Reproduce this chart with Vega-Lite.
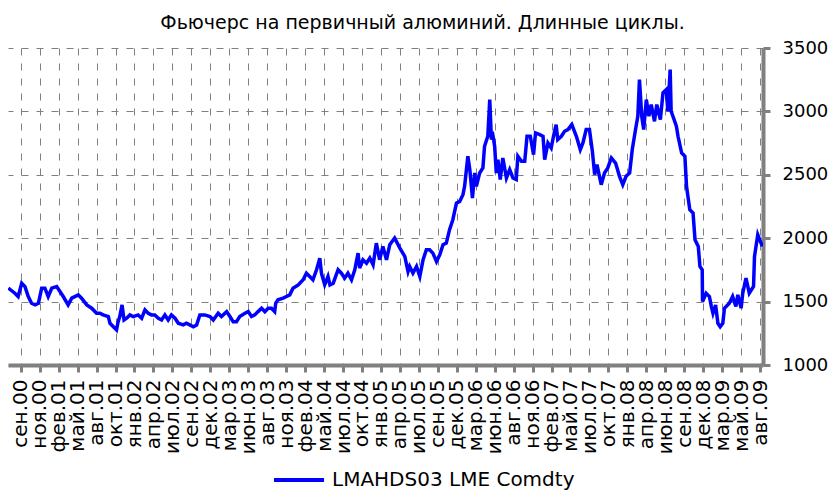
{
  "$schema": "https://vega.github.io/schema/vega-lite/v6.json",
  "width": 755,
  "height": 317,
  "autosize": {"type": "none"},
  "padding": {"left": 8, "top": 48, "right": 71, "bottom": 126},
  "background": "white",
  "title": {
    "text": "Фьючерс на первичный алюминий. Длинные циклы.",
    "font": "DejaVu Sans",
    "fontSize": 19,
    "fontWeight": "normal",
    "color": "black",
    "anchor": "middle",
    "frame": "group",
    "baseline": "alphabetic",
    "offset": -9,
    "dx": 37
  },
  "config": {"view": {"stroke": null}},
  "data": {
    "values": [
      {"d":1,"v":1606},{"d":21,"v":1566},{"d":31,"v":1540},{"d":42,"v":1645},{"d":52,"v":1618},{"d":62,"v":1540},{"d":72,"v":1487},{"d":83,"v":1474},{"d":93,"v":1487},{"d":103,"v":1606},{"d":113,"v":1606},{"d":123,"v":1540},{"d":134,"v":1606},{"d":149,"v":1618},{"d":159,"v":1579},{"d":169,"v":1540},{"d":184,"v":1474},{"d":195,"v":1527},{"d":215,"v":1553},{"d":225,"v":1527},{"d":241,"v":1474},{"d":256,"v":1448},{"d":271,"v":1408},{"d":281,"v":1408},{"d":291,"v":1395},{"d":307,"v":1382},{"d":312,"v":1329},{"d":327,"v":1290},{"d":332,"v":1277},{"d":337,"v":1342},{"d":342,"v":1382},{"d":349,"v":1474},{"d":355,"v":1355},{"d":363,"v":1369},{"d":373,"v":1395},{"d":383,"v":1382},{"d":398,"v":1395},{"d":409,"v":1369},{"d":419,"v":1435},{"d":429,"v":1408},{"d":439,"v":1395},{"d":449,"v":1395},{"d":460,"v":1369},{"d":470,"v":1355},{"d":480,"v":1395},{"d":490,"v":1355},{"d":500,"v":1395},{"d":511,"v":1369},{"d":521,"v":1329},{"d":536,"v":1316},{"d":546,"v":1329},{"d":556,"v":1316},{"d":567,"v":1302},{"d":577,"v":1316},{"d":587,"v":1395},{"d":602,"v":1395},{"d":618,"v":1382},{"d":628,"v":1355},{"d":643,"v":1408},{"d":653,"v":1382},{"d":669,"v":1421},{"d":679,"v":1382},{"d":689,"v":1342},{"d":699,"v":1342},{"d":709,"v":1382},{"d":725,"v":1408},{"d":735,"v":1421},{"d":745,"v":1382},{"d":755,"v":1395},{"d":765,"v":1421},{"d":776,"v":1448},{"d":786,"v":1421},{"d":796,"v":1448},{"d":806,"v":1448},{"d":816,"v":1421},{"d":819,"v":1487},{"d":826,"v":1514},{"d":842,"v":1527},{"d":852,"v":1540},{"d":862,"v":1553},{"d":872,"v":1606},{"d":888,"v":1632},{"d":903,"v":1672},{"d":913,"v":1724},{"d":923,"v":1698},{"d":933,"v":1672},{"d":944,"v":1751},{"d":954,"v":1843},{"d":959,"v":1724},{"d":969,"v":1632},{"d":979,"v":1698},{"d":985,"v":1632},{"d":995,"v":1645},{"d":1010,"v":1751},{"d":1020,"v":1724},{"d":1030,"v":1685},{"d":1040,"v":1724},{"d":1051,"v":1672},{"d":1061,"v":1751},{"d":1071,"v":1882},{"d":1076,"v":1764},{"d":1086,"v":1830},{"d":1097,"v":1803},{"d":1107,"v":1843},{"d":1117,"v":1790},{"d":1127,"v":1961},{"d":1137,"v":1830},{"d":1147,"v":1935},{"d":1158,"v":1830},{"d":1168,"v":1948},{"d":1183,"v":2001},{"d":1199,"v":1922},{"d":1214,"v":1856},{"d":1224,"v":1737},{"d":1229,"v":1777},{"d":1239,"v":1724},{"d":1250,"v":1777},{"d":1260,"v":1698},{"d":1270,"v":1830},{"d":1280,"v":1909},{"d":1290,"v":1909},{"d":1300,"v":1882},{"d":1311,"v":1816},{"d":1321,"v":1869},{"d":1331,"v":1948},{"d":1341,"v":1961},{"d":1351,"v":2067},{"d":1361,"v":2146},{"d":1372,"v":2277},{"d":1382,"v":2290},{"d":1392,"v":2343},{"d":1397,"v":2409},{"d":1407,"v":2646},{"d":1413,"v":2541},{"d":1421,"v":2317},{"d":1428,"v":2514},{"d":1433,"v":2409},{"d":1443,"v":2514},{"d":1453,"v":2554},{"d":1458,"v":2725},{"d":1468,"v":2804},{"d":1474,"v":3093},{"d":1479,"v":2778},{"d":1484,"v":2804},{"d":1489,"v":2725},{"d":1494,"v":2514},{"d":1499,"v":2620},{"d":1506,"v":2462},{"d":1514,"v":2633},{"d":1525,"v":2475},{"d":1535,"v":2541},{"d":1545,"v":2475},{"d":1555,"v":2462},{"d":1560,"v":2646},{"d":1571,"v":2606},{"d":1581,"v":2606},{"d":1588,"v":2804},{"d":1598,"v":2804},{"d":1608,"v":2659},{"d":1614,"v":2830},{"d":1627,"v":2817},{"d":1637,"v":2804},{"d":1642,"v":2620},{"d":1652,"v":2751},{"d":1662,"v":2712},{"d":1669,"v":2804},{"d":1677,"v":2896},{"d":1682,"v":2778},{"d":1693,"v":2804},{"d":1703,"v":2843},{"d":1713,"v":2857},{"d":1725,"v":2896},{"d":1739,"v":2804},{"d":1751,"v":2699},{"d":1759,"v":2751},{"d":1769,"v":2857},{"d":1779,"v":2857},{"d":1788,"v":2685},{"d":1795,"v":2501},{"d":1802,"v":2580},{"d":1815,"v":2422},{"d":1825,"v":2514},{"d":1835,"v":2554},{"d":1846,"v":2633},{"d":1859,"v":2593},{"d":1871,"v":2488},{"d":1881,"v":2422},{"d":1891,"v":2488},{"d":1902,"v":2514},{"d":1910,"v":2699},{"d":1920,"v":2857},{"d":1927,"v":2962},{"d":1932,"v":3251},{"d":1939,"v":2962},{"d":1945,"v":2857},{"d":1953,"v":3093},{"d":1961,"v":2962},{"d":1968,"v":3054},{"d":1978,"v":2922},{"d":1985,"v":3054},{"d":1996,"v":2935},{"d":2004,"v":3146},{"d":2014,"v":3172},{"d":2019,"v":3001},{"d":2026,"v":3330},{"d":2029,"v":3001},{"d":2045,"v":2883},{"d":2050,"v":2804},{"d":2061,"v":2672},{"d":2071,"v":2646},{"d":2076,"v":2409},{"d":2086,"v":2225},{"d":2096,"v":2198},{"d":2102,"v":1988},{"d":2112,"v":1935},{"d":2117,"v":1777},{"d":2124,"v":1751},{"d":2125,"v":1500},{"d":2136,"v":1566},{"d":2146,"v":1540},{"d":2152,"v":1461},{"d":2157,"v":1408},{"d":2165,"v":1474},{"d":2172,"v":1329},{"d":2179,"v":1302},{"d":2187,"v":1329},{"d":2192,"v":1448},{"d":2207,"v":1487},{"d":2217,"v":1540},{"d":2227,"v":1461},{"d":2233,"v":1553},{"d":2243,"v":1448},{"d":2248,"v":1566},{"d":2258,"v":1685},{"d":2268,"v":1566},{"d":2281,"v":1619},{"d":2284,"v":1856},{"d":2294,"v":2027},{"d":2308,"v":1935}
    ]
  },
  "mark": {"type": "line", "strokeWidth": 3.5, "interpolate": "linear", "clip": true},
  "encoding": {
    "x": {
      "field": "d",
      "type": "quantitative",
      "scale": {"domain": [0, 2310], "nice": false, "zero": false},
      "axis": {
        "title": null,
        "values": [39,97,155,213,271,329,387,445,503,561,619,677,735,793,851,909,967,1025,1083,1141,1199,1257,1315,1373,1431,1489,1547,1605,1663,1721,1779,1837,1895,1953,2011,2069,2127,2185,2243,2301],
        "labelExpr": "['сен.00','ноя.00','фев.01','май.01','авг.01','окт.01','янв.02','апр.02','июл.02','сен.02','дек.02','мар.03','июн.03','авг.03','ноя.03','фев.04','май.04','июл.04','окт.04','янв.05','апр.05','июл.05','сен.05','дек.05','мар.06','июн.06','авг.06','ноя.06','фев.07','май.07','июл.07','окт.07','янв.08','апр.08','июн.08','сен.08','дек.08','мар.09','май.09','авг.09'][round((datum.value - 39) / 58)]",
        "labelAngle": 270,
        "labelAlign": "right",
        "labelBaseline": "middle",
        "labelFont": "DejaVu Sans",
        "labelFontSize": 20,
        "labelColor": "black",
        "labelOverlap": false,
        "labelBound": false,
        "labelFlush": false,
        "labelPadding": 7,
        "domainColor": "#808080",
        "domainWidth": 4,
        "tickColor": "#808080",
        "tickWidth": 3,
        "tickSize": 7,
        "grid": true,
        "gridColor": "#808080",
        "gridOpacity": 1,
        "gridDash": [7, 8],
        "gridDashOffset": 0,
        "gridCap": "butt",
        "gridWidth": 1
      }
    },
    "y": {
      "field": "v",
      "type": "quantitative",
      "scale": {"domain": [1000, 3500], "nice": false, "zero": false},
      "axis": {
        "title": null,
        "orient": "right",
        "format": "d",
        "values": [1000, 1500, 2000, 2500, 3000, 3500],
        "labelFont": "DejaVu Sans",
        "labelFontSize": 18,
        "labelColor": "black",
        "labelPadding": 12,
        "labelOverlap": false,
        "labelBound": false,
        "labelFlush": false,
        "domainColor": "#808080",
        "domainWidth": 4,
        "tickColor": "#808080",
        "tickWidth": 3,
        "tickSize": 7,
        "grid": true,
        "gridColor": "#808080",
        "gridOpacity": 1,
        "gridDash": [7, 8],
        "gridDashOffset": 0,
        "gridCap": "butt",
        "gridWidth": 1
      }
    },
    "color": {
      "datum": "LMAHDS03 LME Comdty",
      "type": "nominal",
      "scale": {"range": ["#0000ff"]},
      "legend": {
        "title": null,
        "orient": "none",
        "legendX": 264,
        "legendY": 405,
        "symbolType": "stroke",
        "symbolSize": 2500,
        "symbolStrokeWidth": 4,
        "labelFont": "DejaVu Sans",
        "labelFontSize": 20,
        "labelColor": "black",
        "labelLimit": 0,
        "labelOffset": 6
      }
    }
  }
}
